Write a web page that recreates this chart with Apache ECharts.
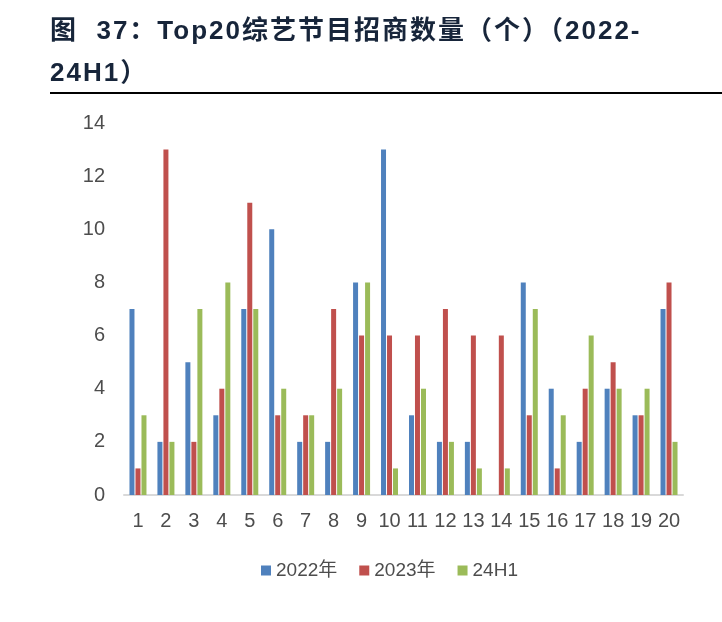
<!DOCTYPE html>
<html>
<head>
<meta charset="utf-8">
<title>Top20综艺节目招商数量</title>
<script src="https://cdn.jsdelivr.net/npm/echarts@6/dist/echarts.min.js"></script>
<style>
  body { margin: 0; background: #fff; }
  #title { position: absolute; left: 50px; top: 9px; width: 670px; font: bold 26px "Liberation Sans", "Noto Sans CJK SC", sans-serif; color: #17253a; line-height: 42px; letter-spacing: 2px; }
  #rule { position: absolute; left: 50px; top: 92px; width: 672px; height: 2px; background: #000; }
  #chart { position: absolute; left: 0; top: 0; width: 722px; height: 622px; }
</style>
</head>
<body>
<div id="chart"></div>
<div id="title">图&nbsp; 37：Top20综艺节目招商数量（个）（2022-<br>24H1）</div>
<div id="rule"></div>
<script>
var categories = ['1','2','3','4','5','6','7','8','9','10','11','12','13','14','15','16','17','18','19','20'];
var seriesNames = ['2022年', '2023年', '24H1'];
var data2022 = [7, 2, 5, 3, 7, 10, 2, 2, 8, 13, 3, 2, 2, 0, 8, 4, 2, 4, 3, 7];
var data2023 = [1, 13, 2, 4, 11, 3, 3, 7, 6, 6, 6, 7, 6, 6, 3, 1, 4, 5, 3, 8];
var data24H1 = [3, 2, 7, 8, 7, 4, 3, 4, 8, 1, 4, 2, 1, 1, 7, 3, 6, 4, 4, 2];
var colors = ['#4f81bd', '#c0504d', '#9bbb59'];

var myChart = echarts.init(document.getElementById('chart'));
var font = '"Liberation Sans", "Noto Sans CJK SC", sans-serif';

function makeSeries(name, values, i) {
    return {
        name: name,
        type: 'bar',
        data: values,
        barWidth: 5,
        barGap: '20%',
        itemStyle: { color: colors[i] }
    };
}

var option = {
    animation: false,
    color: colors,
    grid: { left: 124, right: 39, top: 123, bottom: 127 },
    legend: {
        bottom: 37,
        left: 256,
        itemWidth: 10,
        itemHeight: 10,
        itemGap: 22,
        icon: 'rect',
        textStyle: { fontSize: 19, color: '#4d4d4d', fontFamily: font },
        data: seriesNames
    },
    xAxis: {
        type: 'category',
        data: categories,
        axisLine: { lineStyle: { color: '#d9d9d9', width: 2 } },
        axisTick: { show: false },
        axisLabel: { fontSize: 20, color: '#4d4d4d', fontFamily: font, margin: 16, interval: 0 }
    },
    yAxis: {
        type: 'value',
        min: 0,
        max: 14,
        interval: 2,
        splitLine: { show: false },
        axisLine: { show: false },
        axisTick: { show: false },
        axisLabel: { fontSize: 20, color: '#4d4d4d', fontFamily: font, margin: 19 }
    },
    series: [
        makeSeries(seriesNames[0], data2022, 0),
        makeSeries(seriesNames[1], data2023, 1),
        makeSeries(seriesNames[2], data24H1, 2)
    ]
};
myChart.setOption(option);
</script>
</body>
</html>
